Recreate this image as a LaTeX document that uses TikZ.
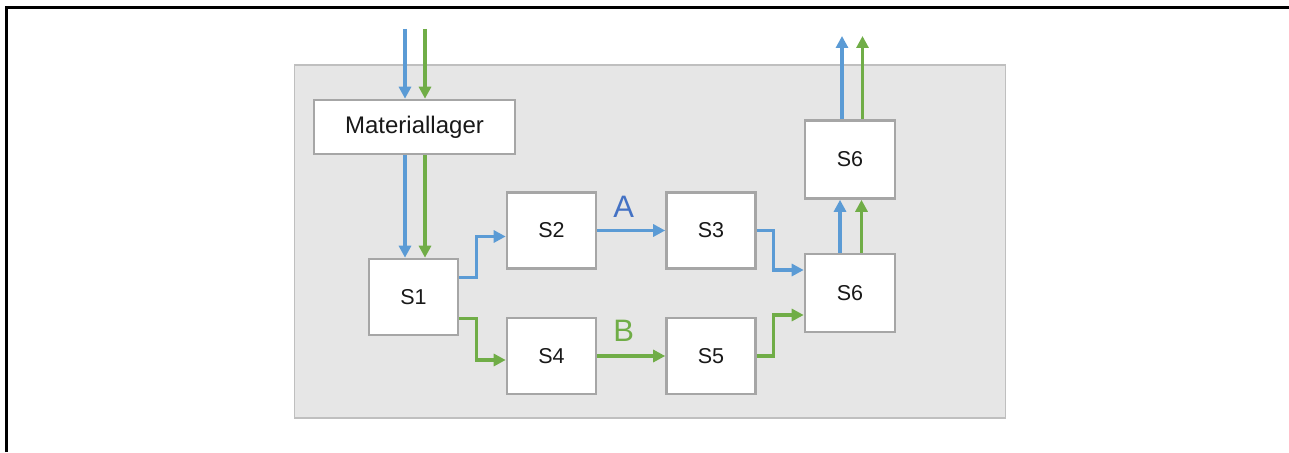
\documentclass[tikz,border=0pt]{standalone}
\usepackage{fontspec}
\setmainfont{Liberation Sans}
\usetikzlibrary{arrows.meta,calc}
\definecolor{flowblue}{HTML}{5B9BD5}
\definecolor{flowgreen}{HTML}{70AD47}
\definecolor{labelblue}{HTML}{4472C4}
\definecolor{boxborder}{HTML}{A6A6A6}
\definecolor{areafill}{HTML}{E6E6E6}
\definecolor{areaborder}{HTML}{BFBFBF}
\tikzset{
  stationbox/.style={draw=boxborder, line width=2.6pt, fill=white, inner sep=0pt,
    minimum width=89pt, minimum height=76pt, font=\fontsize{21.5}{25}\selectfont, text=black!90},
  flowB/.style={draw=flowblue, line width=3.2pt, -{Triangle[length=12pt,width=12pt]}},
  flowG/.style={draw=flowgreen, line width=3.2pt, -{Triangle[length=12pt,width=12pt]}},
  pathlabel/.style={inner sep=0pt, font=\fontsize{31}{36}\selectfont}
}
\begin{document}
\begin{tikzpicture}[x=1pt,y=-1pt]
  \useasboundingbox (0,0) rectangle (1289,452);
  % outer frame (top and left rules)
  \draw[line width=2.6pt] (6.5,452) -- (6.5,7.5) -- (1289,7.5);
  % production area
  \draw[draw=areaborder, fill=areafill, line width=1.4pt] (294.5,65) rectangle (1005.5,418);

  % stations
  \node[stationbox, minimum width=201pt, minimum height=54pt, font=\fontsize{24}{28}\selectfont] (mat) at (414.5,127) {Materiallager};
  \node[stationbox] (s1) at (413.5,297) {S1};
  \node[stationbox] (s2) at (551.5,230.5) {S2};
  \node[stationbox] (s3) at (711,230.5) {S3};
  \node[stationbox] (s4) at (551.5,356) {S4};
  \node[stationbox] (s5) at (711,356) {S5};
  \node[stationbox, minimum width=90pt, minimum height=78pt] (s6a) at (850,293) {S6};
  \node[stationbox, minimum width=90pt, minimum height=78pt] (s6b) at (850,159.5) {S6};

  % free ends of the incoming and outgoing flows
  \coordinate (inB) at (405,29);
  \coordinate (inG) at (425,29);
  \coordinate (outB) at (842,36);
  \coordinate (outG) at (862.5,36);

  % incoming material
  \draw[flowB] (inB) -- (inB |- mat.north);
  \draw[flowG] (inG) -- (inG |- mat.north);
  % store to S1
  \draw[flowB] (inB |- mat.south) -- (inB |- s1.north);
  \draw[flowG] (inG |- mat.south) -- (inG |- s1.north);

  % branch A
  \draw[flowB] ($(s1.east)+(0,-19.5)$) -| ($(s2.west)+(-29,6)$) -- ($(s2.west)+(0,6)$);
  \draw[flowB] (s2.east) -- node[pathlabel, pos=0.39, above=11pt, text=labelblue] {A} (s3.west);
  \draw[flowB] (s3.east) -| ($(s6a.west)+(-30,-23)$) -- ($(s6a.west)+(0,-23)$);

  % branch B
  \draw[flowG] ($(s1.east)+(0,21.5)$) -| ($(s4.west)+(-29,4)$) -- ($(s4.west)+(0,4)$);
  \draw[flowG] (s4.east) -- node[pathlabel, pos=0.39, above=12.5pt, text=flowgreen] {B} (s5.west);
  \draw[flowG] (s5.east) -| ($(s6a.west)+(-30,22)$) -- ($(s6a.west)+(0,22)$);

  % S6 to S6 and out
  \draw[flowB] ($(s6a.north)+(-10,0)$) -- ($(s6b.south)+(-10,0)$);
  \draw[flowG] ($(s6a.north)+(11.5,0)$) -- ($(s6b.south)+(11.5,0)$);
  \draw[flowB] (outB |- s6b.north) -- (outB);
  \draw[flowG] (outG |- s6b.north) -- (outG);
\end{tikzpicture}
\end{document}
